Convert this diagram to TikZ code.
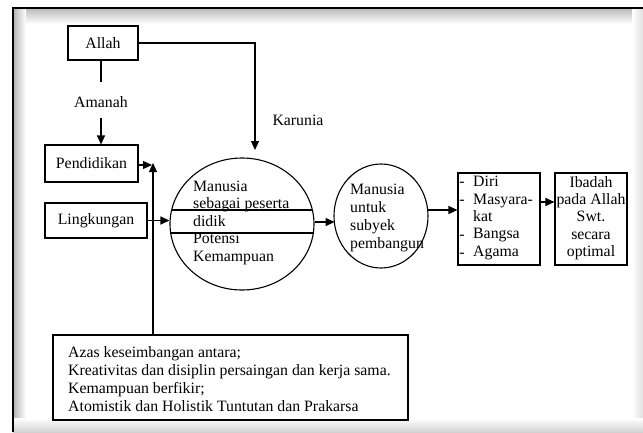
\documentclass[tikz,border=0pt]{standalone}
\usepackage{fontspec}
\setmainfont{Liberation Serif}
\usetikzlibrary{arrows.meta,shapes.geometric}
\begin{document}
\begin{tikzpicture}[x=1pt,y=-1pt,
  txt/.style={font=\fontsize{15.8}{17.5}\selectfont, inner sep=0pt},
  box/.style={draw, line width=1.1pt, inner sep=0pt},
  ell/.style={draw, ellipse, line width=1.1pt, inner sep=0pt},
  arr/.style={line width=1.2pt, -{Triangle[length=9pt,width=8pt]}},
  ln/.style={line width=1.2pt}]
\useasboundingbox (0,0) rectangle (643,432);
\fill[white] (0,0) rectangle (643,432);
% frame shadows
\shade[top color=gray!55, bottom color=white] (13,8) rectangle (643,24);
\shade[left color=gray!60, right color=white] (13,8) rectangle (26,432);
\shade[left color=white, right color=gray!25] (632,8) rectangle (643,432);
\shade[top color=white, bottom color=gray!35] (13,418) rectangle (643,432);
\draw[line width=2pt] (13,432) -- (13,8) -- (643,8);

% boxes
\node[box, minimum width=70pt, minimum height=34pt] (allah) at (103,43) {};
\node[txt] (allaht) at (103,43) {Allah};
\node[txt] (amanah) at (101,102) {Amanah};
\node[box, minimum width=93pt, minimum height=37pt] (pend) at (91.5,163.5) {};
\node[txt] (pendt) at (91.5,163.5) {Pendidikan};
\node[box, minimum width=102pt, minimum height=35pt] (ling) at (96,220.5) {};
\node[txt] (lingt) at (96,220.5) {Lingkungan};
\node[txt] (karunia) at (298,120) {Karunia};

% circle 1
\node[ell, minimum width=144pt, minimum height=132pt] (c1) at (242,224) {};
\node[txt, anchor=west, align=left] (c1t) at (193,222.5)
  {Manusia\\sebagai peserta\\didik\\Potensi\\Kemampuan};
\coordinate (l1a) at (171.6,210); \coordinate (l1b) at (312.4,210);
\coordinate (l2a) at (170.7,233); \coordinate (l2b) at (313.3,233);
\draw[ln] (l1a) -- (l1b);
\draw[ln] (l2a) -- (l2b);

% circle 2
\node[ell, minimum width=94pt, minimum height=104pt] (c2) at (381,216) {};
\node[txt, anchor=west, align=left, font=\fontsize{15.8}{18.3}\selectfont] (c2t) at (350,218)
  {Manusia\\untuk\\subyek\\pembangun};

% diri box
\node[box, minimum width=82pt, minimum height=92pt] (diri) at (499,219) {};
\node[txt, anchor=west, align=left, font=\fontsize{15.8}{17.3}\selectfont] (dirit) at (473,218)
  {Diri\\Masyara-\\kat\\Bangsa\\Agama};
\node[txt] (d1) at (462,184) {-};
\node[txt] (d2) at (462,202) {-};
\node[txt] (d3) at (462,237) {-};
\node[txt] (d4) at (462,255) {-};

% ibadah box
\node[box, minimum width=72pt, minimum height=92pt] (ibadah) at (591,219) {};
\node[txt, align=center, font=\fontsize{15.8}{17.3}\selectfont] (ibadaht) at (591,218)
  {Ibadah\\pada Allah\\Swt.\\secara\\optimal};

% bottom box
\node[box, minimum width=355pt, minimum height=85pt] (azas) at (230.5,377.5) {};
\node[txt, anchor=west, align=left, font=\fontsize{15.8}{18}\selectfont] (azast) at (68,379)
  {Azas keseimbangan antara;\\Kreativitas dan disiplin persaingan dan kerja sama.\\Kemampuan berfikir;\\Atomistik dan Holistik Tuntutan dan Prakarsa};

% connectors
\coordinate (kar) at (255,150);
\coordinate (pendr) at (152,165);
\coordinate (upt) at (153,163);
\draw[ln] (allah.south -| amanah) -- (amanah.north |- 0,82);
\draw[arr] (amanah.south |- 0,118) -- (pend.north -| amanah);
\draw[arr] (allah.east) -| (kar);
\draw[arr] (pend.east |- pendr) -- (pendr);
\draw[arr] (azas.north -| upt) -- (upt);
\draw[arr] (ling.east) -- (ling.east -| c1.west);
\draw[arr] (c1.east |- 0,222) -- (334.6,222);
\draw[arr] (427.8,210) -- (diri.west |- 0,210);
\draw[arr] (diri.east |- 0,202) -- (ibadah.west |- 0,202);
\end{tikzpicture}
\end{document}
